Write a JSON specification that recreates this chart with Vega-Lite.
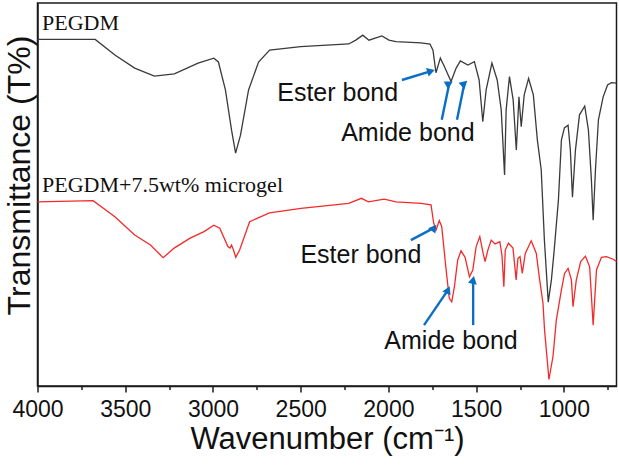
{
  "$schema": "https://vega.github.io/schema/vega-lite/v6.json",
  "width": 579,
  "height": 383,
  "autosize": {"type": "none"},
  "padding": {"left": 37.5, "top": 3, "right": 3, "bottom": 81},
  "background": "white",
  "config": {"view": {"stroke": "#1a1a1a", "strokeWidth": 1.5}, "font": "Liberation Sans"},
  "datasets": {
    "spectra": [
      {"s": "PEGDM", "wn": 4000, "T": 90.5}, {"s": "PEGDM", "wn": 3671, "T": 90.5}, {"s": "PEGDM", "wn": 3559, "T": 86.4},
      {"s": "PEGDM", "wn": 3446, "T": 83.0}, {"s": "PEGDM", "wn": 3334, "T": 80.9}, {"s": "PEGDM", "wn": 3220, "T": 81.5},
      {"s": "PEGDM", "wn": 3085, "T": 84.3}, {"s": "PEGDM", "wn": 2995, "T": 85.6}, {"s": "PEGDM", "wn": 2969, "T": 84.6},
      {"s": "PEGDM", "wn": 2929, "T": 77.3}, {"s": "PEGDM", "wn": 2894, "T": 66.8}, {"s": "PEGDM", "wn": 2871, "T": 60.8},
      {"s": "PEGDM", "wn": 2843, "T": 65.5}, {"s": "PEGDM", "wn": 2797, "T": 77.3}, {"s": "PEGDM", "wn": 2740, "T": 84.6},
      {"s": "PEGDM", "wn": 2677, "T": 87.7}, {"s": "PEGDM", "wn": 2500, "T": 88.6}, {"s": "PEGDM", "wn": 2226, "T": 89.3},
      {"s": "PEGDM", "wn": 2186, "T": 90.3}, {"s": "PEGDM", "wn": 2146, "T": 91.6}, {"s": "PEGDM", "wn": 2111, "T": 90.3},
      {"s": "PEGDM", "wn": 2071, "T": 90.9}, {"s": "PEGDM", "wn": 2037, "T": 91.4}, {"s": "PEGDM", "wn": 1997, "T": 90.3},
      {"s": "PEGDM", "wn": 1957, "T": 89.9}, {"s": "PEGDM", "wn": 1814, "T": 89.6}, {"s": "PEGDM", "wn": 1763, "T": 89.3},
      {"s": "PEGDM", "wn": 1746, "T": 87.7}, {"s": "PEGDM", "wn": 1729, "T": 81.8}, {"s": "PEGDM", "wn": 1704, "T": 85.6},
      {"s": "PEGDM", "wn": 1683, "T": 83.6}, {"s": "PEGDM", "wn": 1643, "T": 79.5}, {"s": "PEGDM", "wn": 1614, "T": 83.0},
      {"s": "PEGDM", "wn": 1590, "T": 84.9}, {"s": "PEGDM", "wn": 1547, "T": 83.8}, {"s": "PEGDM", "wn": 1510, "T": 84.7},
      {"s": "PEGDM", "wn": 1483, "T": 79.9}, {"s": "PEGDM", "wn": 1462, "T": 69.0}, {"s": "PEGDM", "wn": 1443, "T": 77.3},
      {"s": "PEGDM", "wn": 1410, "T": 84.3}, {"s": "PEGDM", "wn": 1380, "T": 79.9}, {"s": "PEGDM", "wn": 1357, "T": 72.1},
      {"s": "PEGDM", "wn": 1338, "T": 55.1}, {"s": "PEGDM", "wn": 1329, "T": 72.1}, {"s": "PEGDM", "wn": 1310, "T": 80.8},
      {"s": "PEGDM", "wn": 1289, "T": 74.7}, {"s": "PEGDM", "wn": 1271, "T": 61.6}, {"s": "PEGDM", "wn": 1256, "T": 75.5},
      {"s": "PEGDM", "wn": 1243, "T": 67.7}, {"s": "PEGDM", "wn": 1226, "T": 76.0}, {"s": "PEGDM", "wn": 1201, "T": 80.3},
      {"s": "PEGDM", "wn": 1174, "T": 76.0}, {"s": "PEGDM", "wn": 1151, "T": 64.2}, {"s": "PEGDM", "wn": 1129, "T": 56.4},
      {"s": "PEGDM", "wn": 1111, "T": 38.1}, {"s": "PEGDM", "wn": 1089, "T": 21.9}, {"s": "PEGDM", "wn": 1071, "T": 27.7},
      {"s": "PEGDM", "wn": 1055, "T": 35.5}, {"s": "PEGDM", "wn": 1031, "T": 48.6}, {"s": "PEGDM", "wn": 1014, "T": 64.2},
      {"s": "PEGDM", "wn": 997, "T": 67.4}, {"s": "PEGDM", "wn": 976, "T": 68.1}, {"s": "PEGDM", "wn": 963, "T": 61.6},
      {"s": "PEGDM", "wn": 951, "T": 49.3}, {"s": "PEGDM", "wn": 934, "T": 61.6}, {"s": "PEGDM", "wn": 911, "T": 70.8},
      {"s": "PEGDM", "wn": 881, "T": 73.1}, {"s": "PEGDM", "wn": 860, "T": 66.8}, {"s": "PEGDM", "wn": 843, "T": 53.8},
      {"s": "PEGDM", "wn": 833, "T": 43.3}, {"s": "PEGDM", "wn": 820, "T": 56.4}, {"s": "PEGDM", "wn": 803, "T": 69.5},
      {"s": "PEGDM", "wn": 776, "T": 75.5}, {"s": "PEGDM", "wn": 751, "T": 78.6}, {"s": "PEGDM", "wn": 729, "T": 79.2},
      {"s": "PEGDM", "wn": 700, "T": 79.1},
      {"s": "microgel", "wn": 4000, "T": 48.1}, {"s": "microgel", "wn": 3683, "T": 48.4}, {"s": "microgel", "wn": 3559, "T": 44.2},
      {"s": "microgel", "wn": 3446, "T": 39.4}, {"s": "microgel", "wn": 3356, "T": 36.8}, {"s": "microgel", "wn": 3284, "T": 33.5},
      {"s": "microgel", "wn": 3221, "T": 36.0}, {"s": "microgel", "wn": 3130, "T": 38.6}, {"s": "microgel", "wn": 3051, "T": 40.3},
      {"s": "microgel", "wn": 2995, "T": 42.0}, {"s": "microgel", "wn": 2961, "T": 41.2}, {"s": "microgel", "wn": 2915, "T": 36.4},
      {"s": "microgel", "wn": 2903, "T": 36.0}, {"s": "microgel", "wn": 2894, "T": 36.8}, {"s": "microgel", "wn": 2883, "T": 35.5},
      {"s": "microgel", "wn": 2870, "T": 33.6}, {"s": "microgel", "wn": 2848, "T": 35.5}, {"s": "microgel", "wn": 2791, "T": 42.9},
      {"s": "microgel", "wn": 2678, "T": 45.2}, {"s": "microgel", "wn": 2498, "T": 46.4}, {"s": "microgel", "wn": 2227, "T": 47.7},
      {"s": "microgel", "wn": 2154, "T": 49.0}, {"s": "microgel", "wn": 2114, "T": 48.1}, {"s": "microgel", "wn": 2024, "T": 48.8},
      {"s": "microgel", "wn": 1956, "T": 48.1}, {"s": "microgel", "wn": 1814, "T": 47.7}, {"s": "microgel", "wn": 1757, "T": 47.3},
      {"s": "microgel", "wn": 1742, "T": 42.5}, {"s": "microgel", "wn": 1729, "T": 40.7}, {"s": "microgel", "wn": 1710, "T": 43.2},
      {"s": "microgel", "wn": 1696, "T": 41.6}, {"s": "microgel", "wn": 1671, "T": 30.3}, {"s": "microgel", "wn": 1653, "T": 22.9},
      {"s": "microgel", "wn": 1639, "T": 22.0}, {"s": "microgel", "wn": 1624, "T": 25.9}, {"s": "microgel", "wn": 1605, "T": 32.9},
      {"s": "microgel", "wn": 1586, "T": 35.3}, {"s": "microgel", "wn": 1563, "T": 33.6}, {"s": "microgel", "wn": 1538, "T": 28.5},
      {"s": "microgel", "wn": 1519, "T": 30.3}, {"s": "microgel", "wn": 1500, "T": 36.4}, {"s": "microgel", "wn": 1479, "T": 39.0},
      {"s": "microgel", "wn": 1460, "T": 34.6}, {"s": "microgel", "wn": 1449, "T": 32.5}, {"s": "microgel", "wn": 1433, "T": 35.5},
      {"s": "microgel", "wn": 1414, "T": 38.1}, {"s": "microgel", "wn": 1392, "T": 37.1}, {"s": "microgel", "wn": 1365, "T": 37.7},
      {"s": "microgel", "wn": 1353, "T": 34.2}, {"s": "microgel", "wn": 1342, "T": 25.9}, {"s": "microgel", "wn": 1334, "T": 35.5},
      {"s": "microgel", "wn": 1316, "T": 37.3}, {"s": "microgel", "wn": 1290, "T": 36.0}, {"s": "microgel", "wn": 1272, "T": 27.7},
      {"s": "microgel", "wn": 1262, "T": 33.3}, {"s": "microgel", "wn": 1250, "T": 33.8}, {"s": "microgel", "wn": 1237, "T": 29.4},
      {"s": "microgel", "wn": 1220, "T": 34.6}, {"s": "microgel", "wn": 1186, "T": 37.9}, {"s": "microgel", "wn": 1157, "T": 34.6},
      {"s": "microgel", "wn": 1138, "T": 27.7}, {"s": "microgel", "wn": 1119, "T": 21.6}, {"s": "microgel", "wn": 1110, "T": 14.6},
      {"s": "microgel", "wn": 1085, "T": 1.7}, {"s": "microgel", "wn": 1062, "T": 7.7}, {"s": "microgel", "wn": 1043, "T": 17.2},
      {"s": "microgel", "wn": 1014, "T": 25.1}, {"s": "microgel", "wn": 996, "T": 29.4}, {"s": "microgel", "wn": 976, "T": 30.7},
      {"s": "microgel", "wn": 957, "T": 27.7}, {"s": "microgel", "wn": 948, "T": 20.7}, {"s": "microgel", "wn": 929, "T": 27.7},
      {"s": "microgel", "wn": 904, "T": 32.5}, {"s": "microgel", "wn": 877, "T": 33.9}, {"s": "microgel", "wn": 853, "T": 31.1},
      {"s": "microgel", "wn": 833, "T": 15.9}, {"s": "microgel", "wn": 814, "T": 30.3}, {"s": "microgel", "wn": 786, "T": 33.6},
      {"s": "microgel", "wn": 757, "T": 33.8}, {"s": "microgel", "wn": 719, "T": 33.1}, {"s": "microgel", "wn": 700, "T": 32.5}
    ],
    "notes": [
      {"wn": 2289, "T": 76.5, "text": "Ester bond"},
      {"wn": 1889, "T": 66.1, "text": "Amide bond"},
      {"wn": 2157, "T": 34.2, "text": "Ester bond"},
      {"wn": 1643, "T": 11.7, "text": "Amide bond"}
    ],
    "names": [
      {"wn": 3974, "T": 93.0, "text": "PEGDM"},
      {"wn": 3974, "T": 50.7, "text": "PEGDM+7.5wt% microgel"}
    ],
    "arrows": [
      {"id": "a1", "wn": 1923, "T": 79.9, "wn2": 1757, "T2": 82.2},
      {"id": "a2", "wn": 1696, "T": 69.5, "wn2": 1653, "T2": 79.0},
      {"id": "a3", "wn": 1609, "T": 69.5, "wn2": 1567, "T2": 79.0},
      {"id": "a4", "wn": 1872, "T": 38.1, "wn2": 1740, "T2": 41.3},
      {"id": "a5", "wn": 1797, "T": 15.9, "wn2": 1660, "T2": 25.1},
      {"id": "a6", "wn": 1517, "T": 15.9, "wn2": 1517, "T2": 27.7}
    ]
  },
  "layer": [
    {
      "data": {"name": "spectra"},
      "mark": {"type": "line", "strokeWidth": 1.3},
      "encoding": {
        "x": {
          "field": "wn", "type": "quantitative",
          "scale": {"domain": [700, 4000], "reverse": true, "nice": false, "zero": false},
          "axis": {
            "values": [4000, 3750, 3500, 3250, 3000, 2750, 2500, 2250, 2000, 1750, 1500, 1250, 1000, 750],
            "format": "d",
            "labelExpr": "datum.value % 500 === 0 ? datum.label : ''",
            "tickSize": {"condition": {"test": "datum.value % 500 === 0", "value": 6}, "value": 3.5},
            "tickColor": "#1a1a1a", "tickWidth": 1.5,
            "domainColor": "#1a1a1a", "domainWidth": 1.5,
            "grid": false,
            "labelFontSize": 23, "labelColor": "#111", "labelFont": "Liberation Sans",
            "labelPadding": 6, "labelFlush": false, "labelOverlap": false,
            "title": "Wavenumber (cm⁻¹)", "titleFont": "Liberation Sans", "titleFontSize": 31,
            "titleFontWeight": "normal", "titleColor": "#111", "titlePadding": 3
          }
        },
        "y": {
          "field": "T", "type": "quantitative",
          "scale": {"domain": [0, 100], "nice": false},
          "axis": {
            "ticks": false, "labels": false, "grid": false,
            "domainColor": "#1a1a1a", "domainWidth": 1.5,
            "title": "Transmittance (T%)", "titleFont": "Liberation Sans", "titleFontSize": 32,
            "titleFontWeight": "normal", "titleColor": "#111", "titlePadding": 8,
            "titleBaseline": "alphabetic", "titleY": 172
          }
        },
        "color": {
          "field": "s", "type": "nominal",
          "scale": {"domain": ["PEGDM", "microgel"], "range": ["#3a3a3a", "#f42a2a"]},
          "legend": null
        }
      }
    },
    {
      "data": {"name": "arrows"},
      "mark": {"type": "rule", "color": "#0a6fc2", "strokeWidth": 2.4},
      "encoding": {
        "x": {"field": "wn", "type": "quantitative"},
        "y": {"field": "T", "type": "quantitative"},
        "x2": {"field": "wn2"},
        "y2": {"field": "T2"}
      }
    },
    {
      "data": {"name": "arrows"},
      "mark": {"type": "point", "shape": "triangle-up", "filled": true, "size": 80, "color": "#0a6fc2", "opacity": 1},
      "encoding": {
        "x": {"field": "wn2", "type": "quantitative"},
        "y": {"field": "T2", "type": "quantitative"},
        "angle": {
          "field": "id", "type": "nominal",
          "scale": {"domain": ["a1", "a2", "a3", "a4", "a5", "a6"], "range": [73, 12, 12, 62, 34, 0]},
          "legend": null
        }
      }
    },
    {
      "data": {"name": "notes"},
      "mark": {"type": "text", "font": "Liberation Sans", "fontSize": 25, "color": "#111", "align": "center", "baseline": "middle"},
      "encoding": {
        "x": {"field": "wn", "type": "quantitative"},
        "y": {"field": "T", "type": "quantitative"},
        "text": {"field": "text"}
      }
    },
    {
      "data": {"name": "names"},
      "mark": {"type": "text", "font": "Liberation Serif", "fontSize": 22, "color": "#111", "align": "left", "baseline": "alphabetic"},
      "encoding": {
        "x": {"field": "wn", "type": "quantitative"},
        "y": {"field": "T", "type": "quantitative"},
        "text": {"field": "text"}
      }
    }
  ]
}
